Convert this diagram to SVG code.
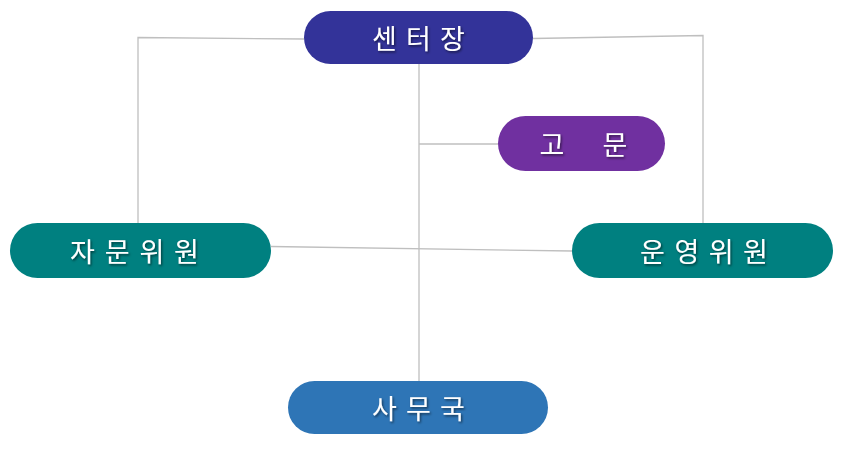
<svg xmlns="http://www.w3.org/2000/svg" width="844" height="450" viewBox="0 0 844 450">
<defs>
<style>
.conn{stroke:#BFBFBF;stroke-width:1.3;fill:none}
.lbl{font-family:"Noto Sans CJK KR","Noto Sans",sans-serif;font-size:27px;fill:#FFFFFF;text-anchor:middle;dominant-baseline:central;filter:url(#sh)}
</style>
<filter id="sh" x="-20%" y="-40%" width="140%" height="180%">
<feDropShadow dx="1.2" dy="1.5" stdDeviation="0.8" flood-color="#000" flood-opacity="0.55"/>
</filter>
</defs>
<rect width="844" height="450" fill="#FFFFFF"/>
<g id="connectors">
<polyline class="conn" points="304,39 138,37.5 138,223"/>
<polyline class="conn" points="533,38.5 703,35.5 703,223"/>
<line class="conn" x1="419" y1="64" x2="419" y2="381"/>
<line class="conn" x1="419" y1="144" x2="498" y2="144"/>
<line class="conn" x1="271" y1="246.5" x2="572" y2="251"/>
</g>
<g id="node-center">
<rect x="304" y="11" width="229" height="53" rx="26.5" fill="#333399"/>
<text class="lbl" x="384.5 418.5 452.5" y="37.5">센터장</text>
</g>
<g id="node-advisor">
<rect x="498" y="116" width="167" height="55" rx="27.5" fill="#7030A0"/>
<text class="lbl" x="552 615" y="143.5">고문</text>
</g>
<g id="node-consult">
<rect x="10" y="223" width="261" height="55" rx="27.5" fill="#008080"/>
<text class="lbl" x="82.5 117.2 151.8 186.5" y="250.5">자문위원</text>
</g>
<g id="node-operate">
<rect x="572" y="223" width="261" height="55" rx="27.5" fill="#008080"/>
<text class="lbl" x="652.5 686.8 721.2 755.5" y="250.5">운영위원</text>
</g>
<g id="node-office">
<rect x="288" y="381" width="260" height="53" rx="26.5" fill="#2E75B6"/>
<text class="lbl" x="384.5 418.5 452.5" y="407.5">사무국</text>
</g>
</svg>
